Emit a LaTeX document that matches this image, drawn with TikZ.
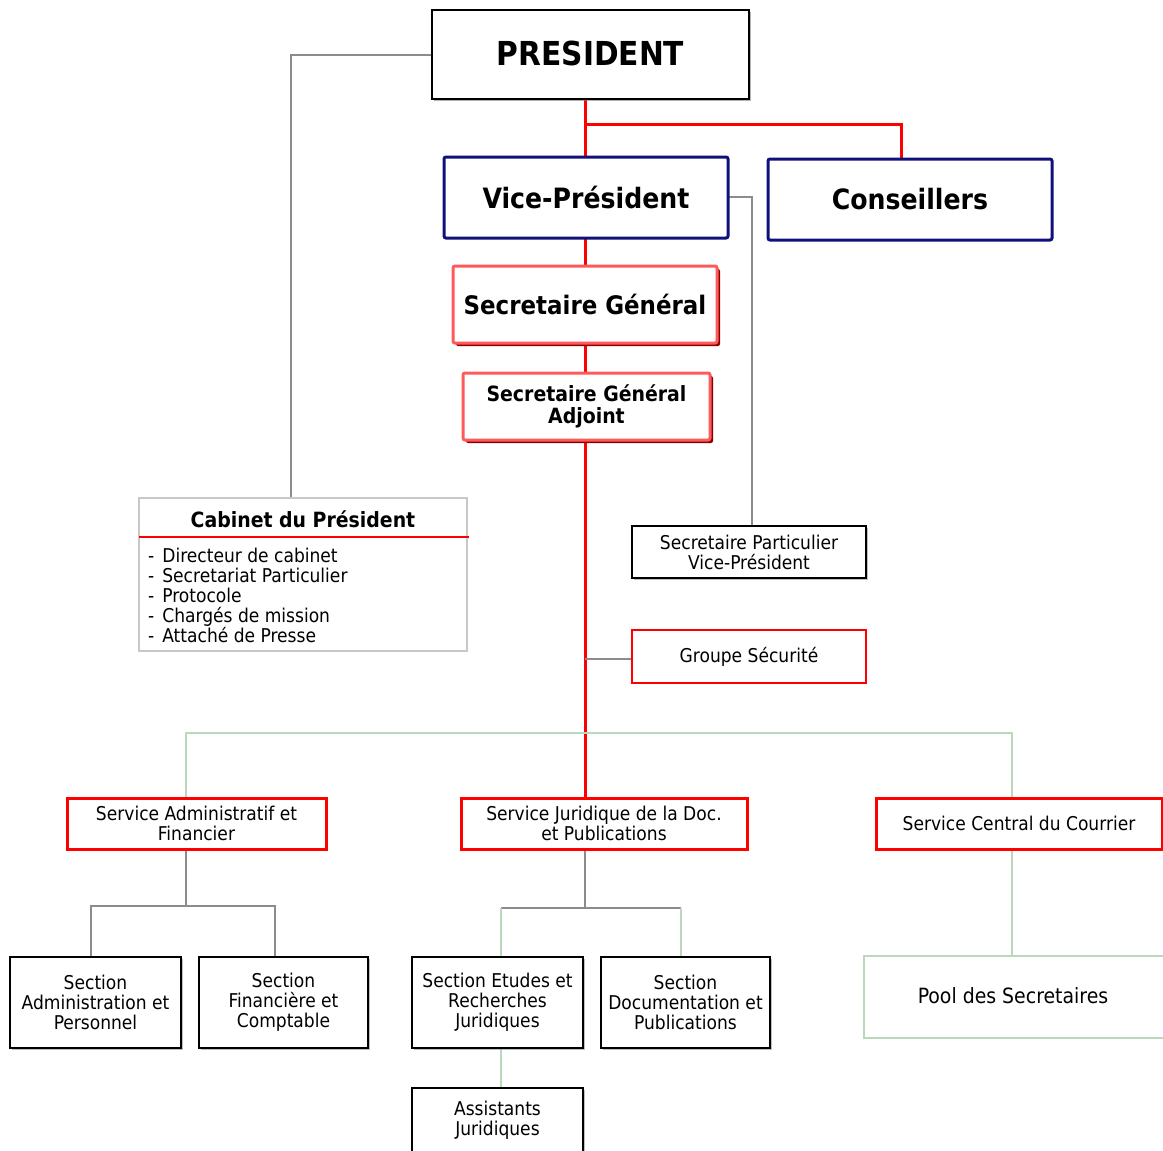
\documentclass[tikz,border=0pt]{standalone}
\usepackage{fontspec}
\setmainfont{DejaVu Sans Condensed}
\usetikzlibrary{shadows}
\definecolor{navyb}{HTML}{10107A}
\definecolor{redl}{HTML}{FF0000}
\definecolor{redsoft}{HTML}{FF5A5A}
\definecolor{reddark}{HTML}{8A0000}
\definecolor{grayl}{HTML}{8C8C8C}
\definecolor{greenl}{HTML}{BCD8BC}
\definecolor{cabgray}{HTML}{C8C8C8}
\tikzset{
  box/.style={rectangle, inner sep=0pt, align=center, font=\fontsize{19}{20}\selectfont},
  presbox/.style={box, draw=black, line width=2pt, fill=white,
    drop shadow={shadow xshift=1.5pt, shadow yshift=-1.5pt, fill=gray, opacity=0.6},
    font=\fontsize{33}{36}\selectfont\bfseries},
  navybox/.style={box, draw=navyb, line width=3pt, rounded corners=2pt, fill=white,
    font=\fontsize{28}{30}\selectfont\bfseries},
  sgbox/.style={box, draw=redsoft, line width=3pt, rounded corners=2pt, fill=white,
    drop shadow={shadow xshift=3pt, shadow yshift=-3pt, fill=reddark, opacity=1}},
  redbox/.style={box, draw=redl, line width=3pt, fill=white},
  thinred/.style={box, draw=redl, line width=1.5pt, fill=white},
  blackbox/.style={box, draw=black, line width=2pt, fill=white,
    drop shadow={shadow xshift=1.5pt, shadow yshift=-1.5pt, fill=gray, opacity=0.5}},
  secbox/.style={box, draw=black, line width=2.5pt, fill=white,
    drop shadow={shadow xshift=1.5pt, shadow yshift=-1.5pt, fill=gray, opacity=0.5}},
  cabbox/.style={box, draw=cabgray, line width=1.5pt, fill=white},
  poolbox/.style={box, draw=greenl, line width=1.5pt, fill=white, font=\fontsize{21}{22}\selectfont},
  redline/.style={draw=redl, line width=3pt},
  grayline/.style={draw=grayl, line width=1.5pt},
  greenline/.style={draw=greenl, line width=1.5pt},
}
\newcommand{\cabitem}[1]{-\hspace{8pt}#1}
\begin{document}
\begin{tikzpicture}[x=1pt, y=-1pt]
\clip (0,0) rectangle (1163,1151);
\fill[white] (0,0) rectangle (1163,1151);

% coordinates for connector routing
\coordinate (j1) at (585,124);
\coordinate (c1) at (291,55);
\coordinate (v1) at (752,197);
\coordinate (b1) at (186,733);
\coordinate (b2) at (1012,733);
\coordinate (a1) at (186,906);
\coordinate (a2) at (91,906);
\coordinate (a3) at (275,906);
\coordinate (s1) at (585,908);
\coordinate (s2) at (501,908);
\coordinate (s3) at (681,908);

% connectors (drawn first, boxes on top)
\draw[redline] (585,99) -- (j1);
\draw[redline] (j1) -| (901,158);
\draw[redline] (j1) -- (585,157);
\draw[redline] (585,238) -- (585,266);
\draw[redline] (585,343) -- (585,373);
\draw[redline] (585,440) -- (585,798);
\draw[grayline] (432,55) -- (c1) -- (291,498);
\draw[grayline] (728,197) -- (v1) -- (752,526);
\draw[grayline] (585,659) -- (632,659);
\draw[greenline] (186,798) -- (b1) -- (b2) -- (1012,798);
\draw[grayline] (186,849) -- (a1);
\draw[grayline] (a2 |- 0,957) -- (a2) -- (a3) -- (a3 |- 0,957);
\draw[grayline] (585,849) -- (s1);
\draw[grayline] (s2) -- (s3);
\draw[greenline] (s2) -- (501,957);
\draw[greenline] (s3) -- (681,957);
\draw[greenline] (501,1048) -- (501,1088);
\draw[greenline] (1012,849) -- (1012,956);

% boxes
\node[presbox, minimum width=317, minimum height=89] (pres) at (590.5,54.5) {\raisebox{3pt}{PRESIDENT}};
\node[navybox, minimum width=284, minimum height=81] (vp) at (586,197.5) {Vice-Président};
\node[navybox, minimum width=284, minimum height=81] (cons) at (910,199.5) {Conseillers};
\node[sgbox, minimum width=264, minimum height=77, font=\fontsize{25.5}{28}\selectfont\bfseries] (sg) at (585,304.5) {Secretaire Général};
\node[sgbox, minimum width=247, minimum height=67, font=\fontsize{21}{22}\selectfont\bfseries] (sga) at (586.5,406.5) {Secretaire Général\\Adjoint};

\node[cabbox, minimum width=328, minimum height=153] (cab) at (303,574.5) {};
\node[box, font=\fontsize{21}{22}\selectfont\bfseries] (cabt) at (303,519) {Cabinet du Président};
\draw[redline, line width=2.5pt] (139,537) -- (469,537);
\node[box, anchor=north west, align=left] (cabl) at (148,548) {\cabitem{Directeur de cabinet}\\\cabitem{Secretariat Particulier}\\\cabitem{Protocole}\\\cabitem{Chargés de mission}\\\cabitem{Attaché de Presse}};

\node[blackbox, minimum width=234, minimum height=52] (spvp) at (749,552) {Secretaire Particulier\\Vice-Président};
\node[thinred, minimum width=234, minimum height=53] (gs) at (749,656.5) {Groupe Sécurité};

\node[redbox, minimum width=259, minimum height=51] (saf) at (196.5,823.5) {Service Administratif et\\Financier};
\node[redbox, minimum width=286, minimum height=51] (sj) at (604,823.5) {Service Juridique de la Doc.\\et Publications};
\node[redbox, minimum width=286, minimum height=51] (scc) at (1019,823.5) {Service Central du Courrier};

\node[secbox, minimum width=171, minimum height=91] (sap) at (95.5,1002.5) {Section\\Administration et\\Personnel};
\node[secbox, minimum width=169, minimum height=91] (sfc) at (283.5,1002.5) {Section\\Financière et\\Comptable};
\node[secbox, minimum width=171, minimum height=91] (serj) at (497.5,1002.5) {Section Etudes et\\Recherches\\Juridiques};
\node[secbox, minimum width=169, minimum height=91] (sdp) at (685.5,1002.5) {Section\\Documentation et\\Publications};
\node[secbox, minimum width=171, minimum height=64] (aj) at (497.5,1120) {Assistants\\Juridiques};
\node[poolbox, minimum width=306, minimum height=82] (pool) at (1017,997) {};
\node[box, font=\fontsize{21}{22}\selectfont] (poolt) at (1013,996) {Pool des Secretaires};
\end{tikzpicture}
\end{document}
